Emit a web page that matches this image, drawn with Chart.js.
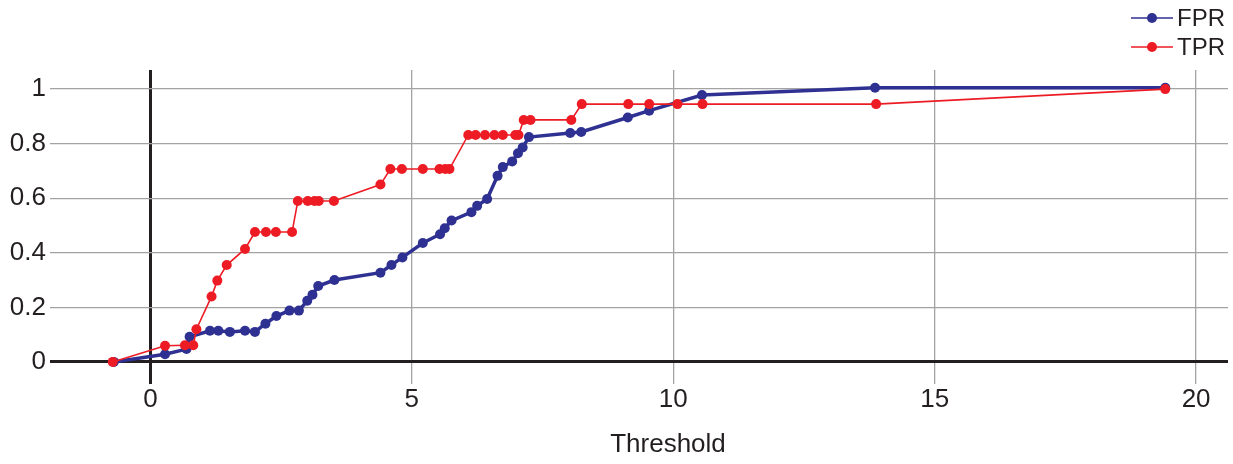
<!DOCTYPE html>
<html>
<head>
<meta charset="utf-8">
<script src="https://cdn.jsdelivr.net/npm/chart.js@4.4.1/dist/chart.umd.min.js"></script>
<style>
  html, body { margin: 0; padding: 0; background: #fff; }
  #wrap { width: 1233px; height: 464px; position: relative; }
</style>
</head>
<body>
<div id="wrap"><canvas id="chart"></canvas></div>
<script>
// values
const fprX = [-0.70, 0.28, 0.69, 0.75, 1.14, 1.30, 1.52, 1.81, 2.00, 2.20, 2.41, 2.66, 2.84, 3.00, 3.10, 3.21,
  3.52, 4.40, 4.61, 4.82, 5.21, 5.54, 5.63, 5.76, 6.14, 6.25, 6.44, 6.64, 6.74, 6.92, 7.03, 7.12, 7.24,
  8.03, 8.24, 9.13, 9.54, 10.55, 13.86, 19.41];
const fprY = [0, 0.028, 0.047, 0.092, 0.114, 0.114, 0.11, 0.114, 0.11, 0.14, 0.168, 0.188, 0.188, 0.224, 0.246, 0.278,
  0.30, 0.327, 0.355, 0.383, 0.436, 0.468, 0.49, 0.518, 0.549, 0.572, 0.597, 0.682, 0.714, 0.735, 0.765, 0.786, 0.824,
  0.839, 0.843, 0.896, 0.921, 0.978, 1.005, 1.005];

const tprX = [-0.72, 0.28, 0.66, 0.82, 0.88, 1.17, 1.28, 1.46, 1.81, 2.00, 2.21, 2.40, 2.71, 2.82, 3.01, 3.14, 3.22,
  3.51, 4.40, 4.59, 4.81, 5.21, 5.53, 5.64, 5.72, 6.08, 6.22, 6.40, 6.58, 6.74, 6.98, 7.04, 7.14, 7.27, 8.05,
  8.25, 9.14, 9.54, 10.08, 10.56, 13.88, 19.41];
const tprY = [0, 0.059, 0.061, 0.061, 0.12, 0.24, 0.298, 0.355, 0.414, 0.476, 0.476, 0.476, 0.476, 0.59, 0.59, 0.59, 0.59,
  0.59, 0.65, 0.707, 0.707, 0.707, 0.707, 0.707, 0.707, 0.832, 0.832, 0.832, 0.832, 0.832, 0.832, 0.832, 0.887, 0.887, 0.887,
  0.945, 0.945, 0.945, 0.945, 0.945, 0.945, 1.0];

const xTicks = [0, 5, 10, 15, 20];
const yTicks = [0, 0.2, 0.4, 0.6, 0.8, 1];
const seriesNames = ["FPR", "TPR"];
const xTitle = "Threshold";

const BLUE = "#2e3192";
const RED = "#ed1c24";
const INK = "#231f20";
const FONT = "'Liberation Sans', Arial, sans-serif";

function toPoints(xs, ys) {
  return xs.map((x, i) => ({ x: x, y: ys[i] }));
}

// legend with line + dot at top right, and the axis title (sits right of centre in the original)
const extrasPlugin = {
  id: "extras",
  afterDraw(chart) {
    const ctx = chart.ctx;
    const items = [
      { label: seriesNames[0], color: BLUE, y: 18 },
      { label: seriesNames[1], color: RED, y: 47 }
    ];
    ctx.save();
    items.forEach(it => {
      ctx.strokeStyle = it.color;
      ctx.lineWidth = 1.5;
      ctx.beginPath();
      ctx.moveTo(1131, it.y);
      ctx.lineTo(1173, it.y);
      ctx.stroke();
      ctx.fillStyle = it.color;
      ctx.beginPath();
      ctx.arc(1152, it.y, 5, 0, Math.PI * 2);
      ctx.fill();
      ctx.fillStyle = INK;
      ctx.font = "24px " + FONT;
      ctx.textBaseline = "middle";
      ctx.textAlign = "left";
      ctx.fillText(it.label, 1177, it.y + 1);
    });
    ctx.font = "26px " + FONT;
    ctx.fillStyle = INK;
    ctx.textAlign = "center";
    ctx.textBaseline = "middle";
    ctx.fillText(xTitle, 668, 445);
    ctx.restore();
  }
};

function gridColor(c) {
  return c.tick && c.tick.value === 0 ? INK : "#a3a3a3";
}
function gridWidth(c) {
  return c.tick && c.tick.value === 0 ? 3 : 1.3;
}

new Chart(document.getElementById("chart"), {
  type: "line",
  data: {
    datasets: [
      {
        label: seriesNames[0],
        data: toPoints(fprX, fprY),
        borderColor: BLUE,
        backgroundColor: BLUE,
        borderWidth: 3.5,
        pointRadius: 5,
        pointBorderWidth: 0,
        pointHoverRadius: 5,
        order: 2
      },
      {
        label: seriesNames[1],
        data: toPoints(tprX, tprY),
        borderColor: RED,
        backgroundColor: RED,
        borderWidth: 1.6,
        pointRadius: 5,
        pointBorderWidth: 0,
        pointHoverRadius: 5,
        order: 1
      }
    ]
  },
  options: {
    responsive: true,
    maintainAspectRatio: false,
    animation: false,
    layout: { padding: { top: 70, right: 1, bottom: 0, left: 0 } },
    plugins: {
      legend: { display: false },
      tooltip: { enabled: false }
    },
    scales: {
      x: {
        type: "linear",
        min: -1.92,
        max: 20.61,
        afterBuildTicks: s => { s.ticks = xTicks.map(v => ({ value: v })); },
        afterFit: s => { s.height = 80; },
        ticks: {
          color: INK,
          padding: 0,
          font: { family: FONT, size: 26 },
          maxRotation: 0,
          callback: v => String(v)
        },
        grid: { color: gridColor, lineWidth: gridWidth, drawTicks: false },
        border: { display: false }
      },
      y: {
        type: "linear",
        min: -0.081,
        max: 1.07,
        afterBuildTicks: s => { s.ticks = yTicks.map(v => ({ value: v })); },
        afterFit: s => { s.width = 50; },
        ticks: {
          color: INK,
          padding: 4,
          font: { family: FONT, size: 26 },
          callback: v => String(Math.round(v * 10) / 10)
        },
        grid: { color: gridColor, lineWidth: gridWidth, drawTicks: false },
        border: { display: false }
      }
    }
  },
  plugins: [extrasPlugin]
});
</script>
</body>
</html>
